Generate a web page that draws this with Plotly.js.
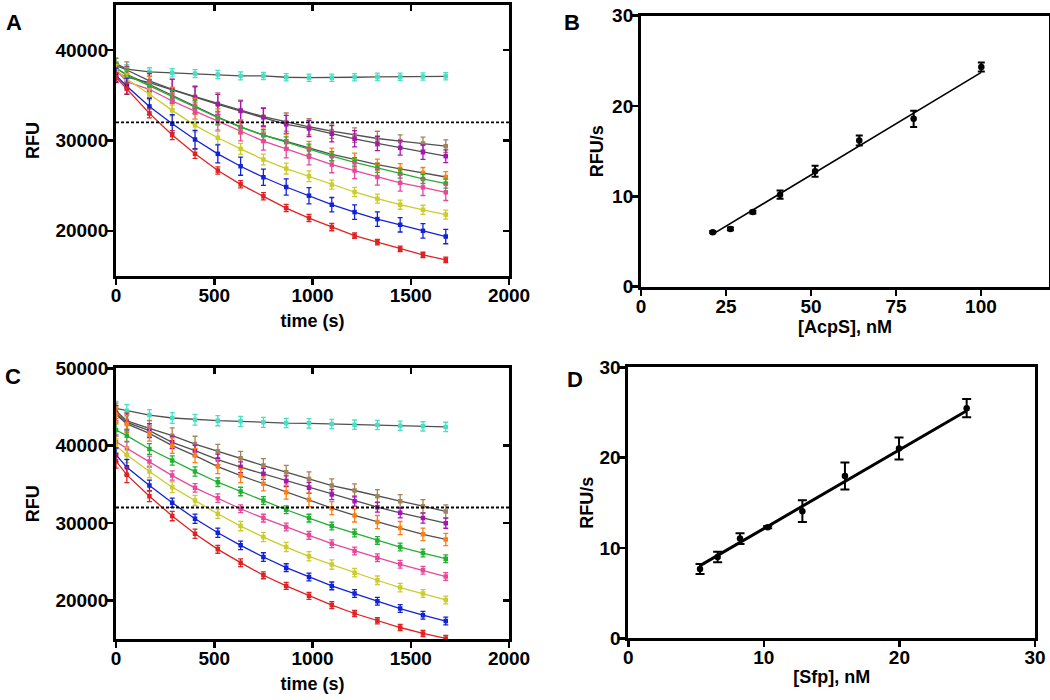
<!DOCTYPE html>
<html><head><meta charset="utf-8">
<script src="https://cdn.plot.ly/plotly-3.0.1.min.js"></script>
<style>html,body{margin:0;padding:0;background:#fff}#chart{width:1050px;height:700px}</style>
</head><body><div id="chart"></div>
<script>
// ---------- DATA ----------
const timeS = [0, 55, 170, 286, 402, 518, 634, 750, 866, 982, 1098, 1214, 1330, 1446, 1562, 1678];
const threshold = 32000;

// Panel A (AcpS) RFU traces
const aCyan   = [38500, 37900, 37600, 37500, 37400, 37300, 37150, 37150, 37000, 36950, 36950, 37000, 37050, 37050, 37080, 37100];
const aBrown  = [38300, 37800, 36590, 35670, 34850, 34070, 33370, 32630, 32040, 31520, 31040, 30590, 30220, 29930, 29670, 29370];
const aPurple = [37600, 37000, 36400, 35600, 34750, 34000, 33260, 32560, 31780, 31330, 30740, 30190, 29670, 29190, 28700, 28260];
const aOrange = [38000, 37300, 36200, 35000, 33800, 32600, 31500, 30600, 29900, 29200, 28450, 27900, 27330, 26850, 26410, 25960];
const aGreen  = [38000, 37220, 36040, 34850, 33700, 32520, 31480, 30590, 29810, 29000, 28260, 27590, 26960, 26330, 25740, 25220];
const aPink   = [37800, 36500, 35670, 34370, 33260, 32150, 30960, 29930, 29070, 28190, 27330, 26670, 25960, 25300, 24810, 24260];
const aYellow = [37800, 36780, 35110, 33330, 31670, 30300, 29070, 27890, 26890, 26040, 25110, 24300, 23560, 22890, 22330, 21800];
const aBlue   = [37200, 36000, 33770, 31850, 30110, 28520, 27150, 25930, 24850, 23890, 22890, 22070, 21300, 20670, 20000, 19370];
const aRed    = [37000, 35740, 33000, 30600, 28520, 26670, 25150, 23820, 22520, 21410, 20410, 19480, 18740, 18000, 17330, 16780];

const aCyanErr   = [600, 500, 450, 450, 450, 450, 450, 400, 400, 400, 400, 400, 400, 400, 400, 400];
const aBrownErr  = [800, 900, 1000, 1100, 1200, 1200, 1100, 1000, 1000, 900, 800, 800, 800, 700, 700, 700];
const aPurpleErr = [900, 1200, 1000, 1200, 1200, 1100, 1100, 1000, 1000, 900, 900, 900, 800, 800, 800, 700];
const aOrangeErr = [700, 800, 900, 900, 900, 900, 800, 800, 800, 700, 700, 700, 600, 600, 600, 600];
const aGreenErr  = [600, 700, 700, 700, 700, 700, 600, 600, 600, 600, 500, 500, 500, 500, 500, 500];
const aPinkErr   = [700, 900, 900, 900, 900, 1000, 1000, 1000, 1000, 900, 900, 900, 900, 900, 900, 900];
const aYellowErr = [600, 600, 600, 600, 700, 700, 600, 600, 600, 600, 500, 500, 500, 500, 500, 500];
const aBlueErr   = [800, 900, 900, 1000, 1000, 1000, 1000, 900, 900, 900, 800, 800, 800, 800, 800, 800];
const aRedErr    = [500, 600, 500, 500, 500, 400, 400, 400, 400, 400, 400, 300, 300, 300, 300, 300];

// Panel C (Sfp) RFU traces
const cCyan   = [44810, 44510, 43950, 43570, 43350, 43220, 43140, 43010, 42920, 42880, 42790, 42710, 42660, 42580, 42490, 42420];
const cBrown  = [44500, 43200, 42230, 41290, 40210, 39270, 38370, 37420, 36560, 35700, 34840, 34200, 33470, 32820, 32180, 31500];
const cPurple = [44200, 43000, 41930, 40430, 39360, 38200, 37210, 36350, 35400, 34540, 33680, 32820, 32050, 31320, 30630, 29970];
const cOrange = [44000, 42800, 41590, 40000, 38710, 37290, 36130, 35060, 33980, 33000, 31920, 30980, 30120, 29340, 28530, 27870];
const cGreen  = [42020, 41290, 39570, 38070, 36650, 35270, 34070, 32910, 31710, 30630, 29600, 28700, 27750, 26890, 26120, 25390];
const cPink   = [40500, 39660, 37940, 36130, 34540, 33210, 31840, 30630, 29470, 28400, 27320, 26380, 25520, 24660, 23890, 23080];
const cYellow = [40000, 38800, 36650, 34630, 32910, 31190, 29600, 28180, 26890, 25690, 24620, 23580, 22600, 21650, 20880, 20050];
const cBlue   = [38800, 37210, 34840, 32610, 30550, 28740, 27110, 25600, 24230, 23030, 21870, 20880, 19890, 18940, 18080, 17320];
const cRed    = [38000, 36220, 33470, 30890, 28610, 26590, 24870, 23240, 21870, 20580, 19370, 18300, 17350, 16490, 15720, 15080];

const cCyanErr   = [900, 800, 700, 700, 700, 650, 650, 650, 600, 600, 600, 600, 600, 600, 600, 600];
const cBrownErr  = [1000, 1100, 1000, 1000, 1000, 900, 900, 900, 900, 900, 850, 850, 850, 850, 850, 850];
const cPurpleErr = [1000, 1100, 900, 800, 700, 700, 700, 700, 700, 700, 650, 650, 650, 650, 650, 650];
const cOrangeErr = [1000, 1100, 1000, 1000, 900, 900, 900, 900, 900, 900, 850, 850, 850, 850, 800, 800];
const cGreenErr  = [800, 800, 700, 600, 600, 550, 550, 500, 500, 500, 500, 500, 500, 500, 500, 500];
const cPinkErr   = [900, 900, 700, 600, 550, 550, 500, 500, 500, 500, 500, 500, 500, 500, 500, 500];
const cYellowErr = [900, 1000, 800, 700, 650, 600, 600, 600, 600, 600, 600, 550, 550, 550, 500, 500];
const cBlueErr   = [900, 1000, 700, 600, 600, 600, 550, 550, 500, 500, 500, 500, 500, 500, 500, 500];
const cRedErr    = [900, 1000, 700, 600, 600, 500, 500, 450, 450, 450, 450, 400, 400, 400, 400, 400];

// Panel B: rate vs [AcpS]
const acpsNM   = [21.1, 26.3, 32.9, 40.9, 51.2, 64.2, 80.2, 100.1];
const acpsRate = [6.04, 6.40, 8.26, 10.19, 12.78, 16.19, 18.59, 24.33];
const acpsErr  = [0.12, 0.15, 0.15, 0.45, 0.60, 0.55, 0.90, 0.50];
const acpsSlope = 0.2266, acpsIntercept = 1.04;

// Panel D: rate vs [Sfp]
const sfpNM   = [5.29, 6.59, 8.24, 10.28, 12.84, 15.98, 19.97, 24.96];
const sfpRate = [7.67, 9.00, 11.04, 12.30, 14.07, 17.96, 21.00, 25.48];
const sfpErr  = [0.55, 0.57, 0.60, 0.12, 1.20, 1.50, 1.22, 1.00];
const sfpSlope = 0.872, sfpIntercept = 3.43;

// ---------- STYLE ----------
const FONT = 'Liberation Sans, Arial, Helvetica, sans-serif';
const markerColors = ['#48e0c4', '#a38358', '#a814b4', '#ff7d12', '#22b032', '#e8489a', '#cccc2a', '#1222d8', '#e02222'];
const lineColors   = ['#505050', '#505050', '#505050', '#505050', '#22b032', '#e8489a', '#cccc2a', '#1222d8', '#e02222'];

const aSeries = [aCyan, aBrown, aPurple, aOrange, aGreen, aPink, aYellow, aBlue, aRed];
const aErrs   = [aCyanErr, aBrownErr, aPurpleErr, aOrangeErr, aGreenErr, aPinkErr, aYellowErr, aBlueErr, aRedErr];
const cSeries = [cCyan, cBrown, cPurple, cOrange, cGreen, cPink, cYellow, cBlue, cRed];
const cErrs   = [cCyanErr, cBrownErr, cPurpleErr, cOrangeErr, cGreenErr, cPinkErr, cYellowErr, cBlueErr, cRedErr];

function kineticTraces(series, errs, xa, ya) {
  return series.map((ys, i) => ({
    type: 'scatter', mode: 'lines+markers', x: timeS, y: ys, xaxis: xa, yaxis: ya,
    showlegend: false, hoverinfo: 'skip', cliponaxis: true,
    line: {color: lineColors[i], width: 1.3},
    marker: {symbol: 'square', size: 4.5, color: markerColors[i]},
    error_y: {type: 'data', array: errs[i], visible: true, color: markerColors[i], thickness: 1.3, width: 2.5}
  }));
}

function rateTraces(xs, ys, es, slope, intercept, xa, ya, lw, msz, ew) {
  const xMin = Math.min(...xs), xMax = Math.max(...xs);
  return [
    {type: 'scatter', mode: 'lines', x: [xMin, xMax], y: [slope * xMin + intercept, slope * xMax + intercept],
     xaxis: xa, yaxis: ya, showlegend: false, hoverinfo: 'skip', line: {color: '#000', width: lw}},
    {type: 'scatter', mode: 'markers', x: xs, y: ys, xaxis: xa, yaxis: ya, showlegend: false,
     marker: {symbol: 'circle', size: msz, color: '#000'},
     error_y: {type: 'data', array: es, visible: true, color: '#000', thickness: 2, width: ew}}
  ];
}

const traces = [].concat(
  kineticTraces(aSeries, aErrs, 'x', 'y'),
  rateTraces(acpsNM, acpsRate, acpsErr, acpsSlope, acpsIntercept, 'x2', 'y2', 1.6, 6.5, 3.5),
  kineticTraces(cSeries, cErrs, 'x3', 'y3'),
  rateTraces(sfpNM, sfpRate, sfpErr, sfpSlope, sfpIntercept, 'x4', 'y4', 3, 6.5, 4.5),
  [{type: 'scatter', x: [null], y: [null], xaxis: 'x5', yaxis: 'y5', showlegend: false, hoverinfo: 'skip'},
   {type: 'scatter', x: [null], y: [null], xaxis: 'x6', yaxis: 'y6', showlegend: false, hoverinfo: 'skip'}]
);

const tickFont = {family: FONT, size: 19, color: '#000', weight: 'bold'};
const titleFont = {family: FONT, size: 18, color: '#000', weight: 'bold'};
function ax(extra) {
  return Object.assign({
    showline: true, linecolor: '#000', linewidth: 3, mirror: true,
    ticks: 'outside', ticklen: 6, tickwidth: 2.5, tickcolor: '#000',
    showgrid: false, zeroline: false, tickformat: 'd',
    tickfont: tickFont, fixedrange: true
  }, extra);
}
function innerAx(extra) {
  return Object.assign({
    showline: false, ticks: 'inside', ticklen: 6, tickwidth: 2.5, tickcolor: '#000',
    showgrid: false, zeroline: false, showticklabels: false, fixedrange: true
  }, extra);
}

const domA_x = [0.1105, 0.4848], domA_y = [0.6057, 0.9929];
const domC_y = [0.0871, 0.4739];
const XS = -6, YS = -5;

const layout = {
  width: 1050, height: 700, margin: {l: 0, r: 0, t: 0, b: 0},
  paper_bgcolor: '#fff', plot_bgcolor: '#fff', showlegend: false,
  xaxis:  ax({domain: domA_x, anchor: 'y', range: [0, 2000], dtick: 500, ticklabelstandoff: XS, title: {text: 'time (s)', font: titleFont, standoff: 10}}),
  yaxis:  ax({domain: domA_y, anchor: 'x', range: [15000, 45000], dtick: 10000, ticklabelstandoff: YS, title: {text: 'RFU', font: titleFont, standoff: 12}}),
  xaxis2: ax({domain: [0.6105, 0.999], anchor: 'y2', range: [0, 120], dtick: 25, ticklabelstandoff: XS, title: {text: '[AcpS], nM', font: titleFont, standoff: 2}}),
  yaxis2: ax({domain: [0.5904, 0.9776], anchor: 'x2', range: [0, 30], dtick: 10, ticklabelstandoff: YS, title: {text: 'RFU/s', font: titleFont, standoff: 4}}),
  xaxis3: ax({domain: domA_x, anchor: 'y3', range: [0, 2000], dtick: 500, ticklabelstandoff: XS, title: {text: 'time (s)', font: titleFont, standoff: 10}}),
  yaxis3: ax({domain: domC_y, anchor: 'x3', range: [15000, 50000], dtick: 10000, ticklabelstandoff: YS, title: {text: 'RFU', font: titleFont, standoff: 12}}),
  xaxis4: ax({domain: [0.5984, 0.9857], anchor: 'y4', range: [0, 30], dtick: 10, ticklabelstandoff: XS, title: {text: '[Sfp], nM', font: titleFont, standoff: 4}}),
  yaxis4: ax({domain: [0.0881, 0.4753], anchor: 'x4', range: [0, 30], dtick: 10, ticklabelstandoff: YS, title: {text: 'RFU/s', font: titleFont, standoff: 2}}),
  xaxis5: innerAx({overlaying: 'x', anchor: 'y', side: 'top', range: [0, 2000], dtick: 500}),
  yaxis5: innerAx({overlaying: 'y', anchor: 'x', side: 'right', range: [15000, 45000], dtick: 10000}),
  xaxis6: innerAx({overlaying: 'x3', anchor: 'y3', side: 'top', range: [0, 2000], dtick: 500}),
  yaxis6: innerAx({overlaying: 'y3', anchor: 'x3', side: 'right', range: [15000, 50000], dtick: 10000}),
  shapes: [
    {type: 'line', xref: 'x domain', x0: 0, x1: 1, yref: 'y', y0: threshold, y1: threshold, line: {color: '#000', width: 1.8, dash: '3px,2px'}},
    {type: 'line', xref: 'x3 domain', x0: 0, x1: 1, yref: 'y3', y0: threshold, y1: threshold, line: {color: '#000', width: 1.8, dash: '3px,2px'}}
  ],
  annotations: [
    {text: 'A', xref: 'paper', yref: 'paper', x: 13.5 / 1050, y: 1 - 22.5 / 700, showarrow: false, xanchor: 'center', yanchor: 'middle', font: {family: FONT, size: 22, color: '#000', weight: 'bold'}},
    {text: 'B', xref: 'paper', yref: 'paper', x: 572 / 1050, y: 1 - 22.5 / 700, showarrow: false, xanchor: 'center', yanchor: 'middle', font: {family: FONT, size: 22, color: '#000', weight: 'bold'}},
    {text: 'C', xref: 'paper', yref: 'paper', x: 12.5 / 1050, y: 1 - 376 / 700, showarrow: false, xanchor: 'center', yanchor: 'middle', font: {family: FONT, size: 22, color: '#000', weight: 'bold'}},
    {text: 'D', xref: 'paper', yref: 'paper', x: 575 / 1050, y: 1 - 379 / 700, showarrow: false, xanchor: 'center', yanchor: 'middle', font: {family: FONT, size: 22, color: '#000', weight: 'bold'}}
  ]
};

Plotly.newPlot('chart', traces, layout, {staticPlot: true, displayModeBar: false});
</script>
</body></html>
